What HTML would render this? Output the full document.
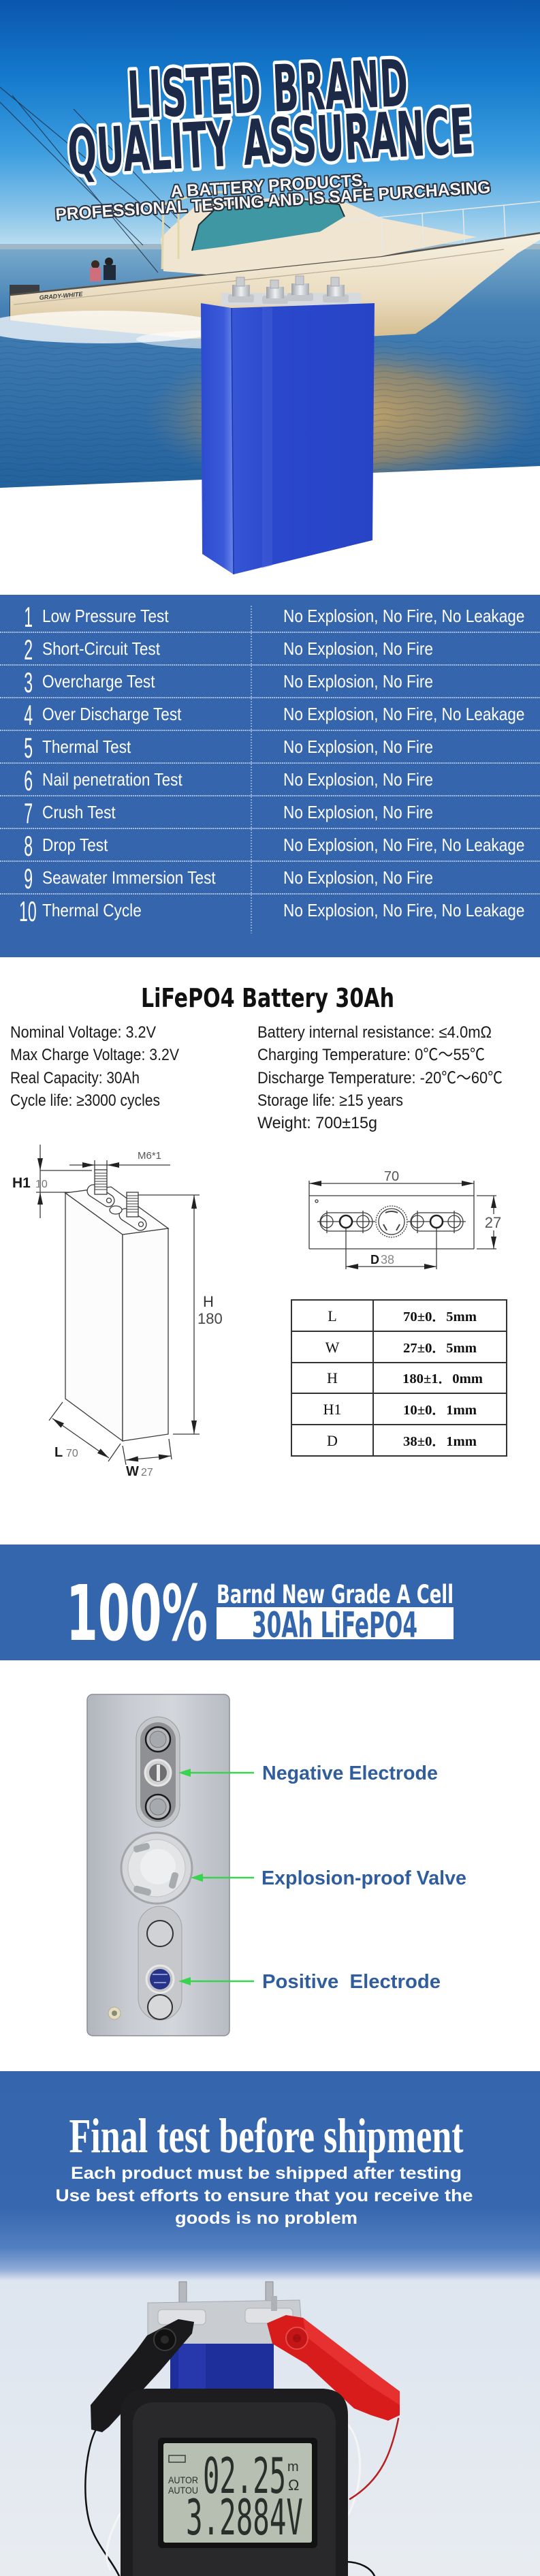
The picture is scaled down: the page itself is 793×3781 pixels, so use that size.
<!DOCTYPE html>
<html><head><meta charset="utf-8">
<style>
html,body{margin:0;padding:0;background:#fff;}
svg{display:block}
.d{font-family:"DejaVu Sans Condensed","DejaVu Sans",sans-serif;font-weight:bold;font-stretch:condensed}
.s{font-family:"Liberation Sans","Noto Sans CJK SC",sans-serif}
.sb{font-family:"Liberation Sans","Noto Sans CJK SC",sans-serif;font-weight:bold}
.sr{font-family:"Liberation Serif","Noto Serif CJK SC",serif}
.mono{font-family:"DejaVu Sans Mono","Liberation Mono",monospace}
</style></head><body>
<svg width="793" height="3781" viewBox="0 0 793 3781" xmlns="http://www.w3.org/2000/svg">
<defs>
<linearGradient id="sky" x1="0" y1="0" x2="0" y2="1">
<stop offset="0" stop-color="#0a56ad"/><stop offset="0.3" stop-color="#1479cc"/>
<stop offset="0.6" stop-color="#3c9ddf"/><stop offset="0.85" stop-color="#8cc6ea"/><stop offset="1" stop-color="#c5e2f1"/>
</linearGradient>
<linearGradient id="sea" x1="0" y1="0" x2="0" y2="1">
<stop offset="0" stop-color="#78a9cb"/><stop offset="0.25" stop-color="#437fb4"/><stop offset="1" stop-color="#22609c"/>
</linearGradient>
<radialGradient id="gold" cx="0.5" cy="0.5" r="0.5">
<stop offset="0" stop-color="#d7ad62" stop-opacity="0.95"/><stop offset="0.6" stop-color="#b89258" stop-opacity="0.65"/><stop offset="1" stop-color="#6d7f8e" stop-opacity="0"/>
</radialGradient>
<linearGradient id="hull" x1="0" y1="0" x2="0" y2="1">
<stop offset="0" stop-color="#f7f0e1"/><stop offset="0.6" stop-color="#eadcc0"/><stop offset="1" stop-color="#d5bd8e"/>
</linearGradient>
<linearGradient id="batM" x1="0" y1="0" x2="1" y2="0">
<stop offset="0" stop-color="#3656d6"/><stop offset="0.3" stop-color="#2a48cc"/><stop offset="1" stop-color="#2744c6"/>
</linearGradient>
<linearGradient id="batL" x1="0" y1="0" x2="1" y2="0">
<stop offset="0" stop-color="#2d4bd0"/><stop offset="0.7" stop-color="#3b5ad9"/><stop offset="1" stop-color="#6a85ea"/>
</linearGradient>
<linearGradient id="plate" x1="0" y1="0" x2="1" y2="0">
<stop offset="0" stop-color="#b1b5bc"/><stop offset="0.3" stop-color="#c9ccd2"/><stop offset="0.6" stop-color="#d3d6db"/><stop offset="1" stop-color="#b7bbc2"/>
</linearGradient>
<linearGradient id="fin" x1="0" y1="0" x2="0" y2="1">
<stop offset="0" stop-color="#3565ad"/><stop offset="0.27" stop-color="#3767ae"/><stop offset="0.35" stop-color="#527fc1"/>
<stop offset="0.392" stop-color="#8eaad6"/><stop offset="0.415" stop-color="#dde5ef"/><stop offset="1" stop-color="#e8ecf1"/>
</linearGradient>
<linearGradient id="metal" x1="0" y1="0" x2="1" y2="0">
<stop offset="0" stop-color="#9ea2a8"/><stop offset="0.5" stop-color="#eef0f2"/><stop offset="1" stop-color="#a9adb2"/>
</linearGradient>
<pattern id="rip" width="46" height="9" patternUnits="userSpaceOnUse">
<path d="M0 6 Q12 3 23 6 T46 6" stroke="#173f6a" stroke-width="1.4" fill="none"/>
</pattern>
</defs>

<!-- ============ HERO ============ -->
<rect x="0" y="0" width="793" height="370" fill="url(#sky)"/>
<rect x="0" y="358" width="793" height="10" fill="#9fb8c8"/>
<rect x="0" y="366" width="793" height="360" fill="url(#sea)"/>
<ellipse cx="500" cy="610" rx="290" ry="115" fill="url(#gold)"/>
<rect x="0" y="500" width="793" height="220" fill="url(#rip)" opacity="0.18"/>
<!-- rods -->
<g stroke="#1d2d44" stroke-width="1.2" opacity="0.8">
<line x1="0" y1="128" x2="250" y2="335"/>
<line x1="0" y1="150" x2="210" y2="360"/>
<line x1="108" y1="160" x2="262" y2="322"/>
<line x1="18" y1="140" x2="232" y2="400"/>
</g>
<!-- boat -->
<rect x="14" y="418" width="44" height="52" fill="#3a3d42"/>
<polygon points="15,433 303,403 560,376 793,342 793,352 760,372 700,420 640,470 610,490 500,496 280,497 100,480 15,470" fill="url(#hull)"/>
<polyline points="15,433 303,403 560,376 793,342" fill="none" stroke="#55524c" stroke-width="2.5"/>
<polyline points="20,447 300,417 560,390 740,366" fill="none" stroke="#b9ad96" stroke-width="1.2"/>
<text x="58" y="440" class="sb" font-size="9" font-style="italic" fill="#3a3a3a" transform="rotate(-5 58 440)">GRADY-WHITE</text>
<polygon points="240,398 236,350 250,335 290,300 420,289 505,296 560,320 700,348 560,376 303,403" fill="#efe5d0"/>
<polygon points="282,368 292,330 318,305 430,293 498,300 506,318 470,340 330,362" fill="#3f97a3"/>
<polyline points="282,368 292,330 318,305 430,293 498,300 506,318" fill="none" stroke="#1f3038" stroke-width="2"/>
<g stroke="#e3d6a8" stroke-width="3" fill="none">
<polyline points="238,395 240,300 300,282 330,282"/>
<line x1="262" y1="290" x2="262" y2="380"/>
</g>
<g stroke="#e8e8e8" stroke-width="1.5" fill="none">
<polyline points="505,324 650,310 793,296"/>
<line x1="560" y1="319" x2="562" y2="372"/><line x1="620" y1="313" x2="622" y2="364"/><line x1="680" y1="307" x2="682" y2="356"/><line x1="740" y1="301" x2="742" y2="348"/>
</g>
<circle cx="140" cy="388" r="6" fill="#3b2a22"/><rect x="132" y="393" width="16" height="20" fill="#cf6f7d"/>
<circle cx="160" cy="384" r="6" fill="#222"/><rect x="152" y="389" width="18" height="22" fill="#1f2a3a"/>
<ellipse cx="150" cy="480" rx="180" ry="24" fill="#ffffff" opacity="0.75"/>
<ellipse cx="330" cy="498" rx="130" ry="14" fill="#ffffff" opacity="0.55"/>
<!-- white floor -->
<polygon points="0,716 793,684 793,873 0,873" fill="#ffffff"/>

<!-- Title -->
<text class="d" x="393" y="164" text-anchor="middle" font-size="95" textLength="412" lengthAdjust="spacingAndGlyphs" fill="#1c2a48" stroke="#ffffff" stroke-width="10" stroke-linejoin="round" paint-order="stroke" transform="rotate(-2.5 393 130)">LISTED BRAND</text>
<text class="d" x="397" y="240" text-anchor="middle" font-size="92" textLength="596" lengthAdjust="spacingAndGlyphs" fill="#1c2a48" stroke="#ffffff" stroke-width="10" stroke-linejoin="round" paint-order="stroke" transform="rotate(-3 397 205)">QUALITY ASSURANCE</text>
<text class="sb" x="395" y="281" text-anchor="middle" font-size="25" textLength="289" lengthAdjust="spacingAndGlyphs" fill="#f5f5f5" stroke="#2a2f3a" stroke-width="4" stroke-linejoin="round" paint-order="stroke" transform="rotate(-3.4 395 275)">A BATTERY PRODUCTS,</text>
<text class="sb" x="401" y="303" text-anchor="middle" font-size="25" textLength="640" lengthAdjust="spacingAndGlyphs" fill="#f5f5f5" stroke="#2a2f3a" stroke-width="4" stroke-linejoin="round" paint-order="stroke" transform="rotate(-3.6 401 297)">PROFESSIONAL TESTING AND IS SAFE PURCHASING</text>

<!-- Battery -->
<rect x="325" y="430" width="205" height="18" fill="#d6d9dd"/>
<g>
<rect x="335" y="432" width="38" height="12" rx="3" fill="#c4c8cd"/><rect x="341" y="418" width="26" height="17" fill="url(#metal)"/><rect x="347" y="407" width="12" height="13" fill="#c9ccd0" stroke="#9a9ea3" stroke-width="0.8"/>
<rect x="385" y="434" width="38" height="12" rx="3" fill="#c4c8cd"/><rect x="391" y="421" width="26" height="17" fill="url(#metal)"/><rect x="397" y="411" width="12" height="12" fill="#c9ccd0" stroke="#9a9ea3" stroke-width="0.8"/>
<rect x="422" y="430" width="38" height="12" rx="3" fill="#c4c8cd"/><rect x="428" y="416" width="26" height="17" fill="url(#metal)"/><rect x="434" y="405" width="12" height="13" fill="#c9ccd0" stroke="#9a9ea3" stroke-width="0.8"/>
<rect x="474" y="432" width="38" height="12" rx="3" fill="#c4c8cd"/><rect x="480" y="418" width="26" height="17" fill="url(#metal)"/><rect x="486" y="407" width="12" height="13" fill="#c9ccd0" stroke="#9a9ea3" stroke-width="0.8"/>
</g>
<polygon points="295,445 340,452 343,843 297,813" fill="url(#batL)"/>
<polygon points="340,452 550,445 547,793 343,843" fill="url(#batM)"/>
<line x1="340" y1="452" x2="343" y2="843" stroke="#1d36a8" stroke-width="1.5"/>
<polygon points="385,451 400,451 400,830 385,834" fill="#4a67de" opacity="0.35"/>

<!-- ============ TEST TABLE ============ -->
<rect x="0" y="873" width="793" height="532" fill="#3565ad"/>
<g stroke="#a9bde0" stroke-width="2" stroke-dasharray="2 1">
<line x1="0" y1="928" x2="793" y2="928"/><line x1="0" y1="976" x2="793" y2="976"/>
<line x1="0" y1="1024" x2="793" y2="1024"/><line x1="0" y1="1072" x2="793" y2="1072"/>
<line x1="0" y1="1120" x2="793" y2="1120"/><line x1="0" y1="1168" x2="793" y2="1168"/>
<line x1="0" y1="1216" x2="793" y2="1216"/><line x1="0" y1="1264" x2="793" y2="1264"/>
<line x1="0" y1="1312" x2="793" y2="1312"/>
</g>
<line x1="369" y1="889" x2="369" y2="1370" stroke="#a9bde0" stroke-width="1.5" stroke-dasharray="2 2"/>
<g transform="scale(0.55 1)" class="s" font-size="42" fill="#ffffff">
<text x="64" y="920">1</text><text x="64" y="968">2</text><text x="64" y="1016">3</text>
<text x="64" y="1064">4</text><text x="64" y="1112">5</text><text x="64" y="1160">6</text>
<text x="64" y="1208">7</text><text x="64" y="1256">8</text><text x="64" y="1304">9</text>
<text x="51" y="1352">10</text>
</g>
<g transform="scale(0.87 1)" class="s" font-size="26" fill="#ffffff">
<text x="71.3" y="913">Low Pressure Test</text>
<text x="71.3" y="961">Short-Circuit Test</text>
<text x="71.3" y="1009">Overcharge Test</text>
<text x="71.3" y="1057">Over Discharge Test</text>
<text x="71.3" y="1105">Thermal Test</text>
<text x="71.3" y="1153">Nail penetration Test</text>
<text x="71.3" y="1201">Crush Test</text>
<text x="71.3" y="1249">Drop Test</text>
<text x="71.3" y="1297">Seawater Immersion Test</text>
<text x="71.3" y="1345">Thermal Cycle</text>
<text x="478.2" y="913">No Explosion, No Fire, No Leakage</text>
<text x="478.2" y="961">No Explosion, No Fire</text>
<text x="478.2" y="1009">No Explosion, No Fire</text>
<text x="478.2" y="1057">No Explosion, No Fire, No Leakage</text>
<text x="478.2" y="1105">No Explosion, No Fire</text>
<text x="478.2" y="1153">No Explosion, No Fire</text>
<text x="478.2" y="1201">No Explosion, No Fire</text>
<text x="478.2" y="1249">No Explosion, No Fire, No Leakage</text>
<text x="478.2" y="1297">No Explosion, No Fire</text>
<text x="478.2" y="1345">No Explosion, No Fire, No Leakage</text>
</g>

<!-- ============ SPECS ============ -->
<text class="d" x="393" y="1478" text-anchor="middle" font-size="38" textLength="372" lengthAdjust="spacingAndGlyphs" fill="#111">LiFePO4 Battery 30Ah</text>
<g class="s" font-size="24" fill="#1a1a1a">
<text x="15" y="1523" textLength="214" lengthAdjust="spacingAndGlyphs">Nominal Voltage: 3.2V</text>
<text x="15" y="1556" textLength="248" lengthAdjust="spacingAndGlyphs">Max Charge Voltage: 3.2V</text>
<text x="15" y="1590" textLength="190" lengthAdjust="spacingAndGlyphs">Real Capacity: 30Ah</text>
<text x="15" y="1623" textLength="220" lengthAdjust="spacingAndGlyphs">Cycle life: ≥3000 cycles</text>
<text x="378" y="1523" textLength="344" lengthAdjust="spacingAndGlyphs">Battery internal resistance: ≤4.0mΩ</text>
<text x="378" y="1556" textLength="334" lengthAdjust="spacingAndGlyphs">Charging Temperature: 0℃～55℃</text>
<text x="378" y="1590" textLength="360" lengthAdjust="spacingAndGlyphs">Discharge Temperature: -20℃～60℃</text>
<text x="378" y="1623" textLength="214" lengthAdjust="spacingAndGlyphs">Storage life: ≥15 years</text>
<text x="378" y="1656" textLength="176" lengthAdjust="spacingAndGlyphs">Weight: 700±15g</text>
</g>

<!-- Drawing left -->
<g stroke="#3a3a3a" stroke-width="1.3" fill="none">
<line x1="59" y1="1680" x2="59" y2="1788"/>
<line x1="59" y1="1718" x2="135" y2="1718"/>
<line x1="53" y1="1750" x2="128" y2="1750"/>
<line x1="102" y1="1710" x2="250" y2="1710"/>
<line x1="139" y1="1703" x2="139" y2="1720"/><line x1="157" y1="1703" x2="157" y2="1720"/>
<line x1="285" y1="1754" x2="285" y2="2105"/>
<line x1="203" y1="1754" x2="293" y2="1754"/><line x1="254" y1="2105" x2="293" y2="2105"/>
<line x1="77" y1="2082" x2="160" y2="2140"/>
<line x1="72" y1="2085" x2="92" y2="2058"/><line x1="159" y1="2145" x2="177" y2="2119"/>
<line x1="185" y1="2143" x2="251" y2="2137"/>
<line x1="180" y1="2122" x2="185" y2="2150"/><line x1="248" y1="2112" x2="252" y2="2142"/>
</g>
<g fill="#222">
<polygon points="59,1718 55,1700 63,1700"/><polygon points="59,1750 55,1768 63,1768"/>
<polygon points="139,1710 121,1706 121,1714"/><polygon points="157,1710 175,1706 175,1714"/>
<polygon points="285,1754 281,1774 289,1774"/><polygon points="285,2105 281,2085 289,2085"/>
<polygon points="77,2082 89.4,2095.6 94,2089"/><polygon points="160,2140 143,2133 147.6,2126.4"/>
<polygon points="185,2143 203.3,2145.4 202.5,2137.4"/><polygon points="251,2137 233.5,2142.6 232.7,2134.6"/>
</g>
<g stroke="#3a3a3a" stroke-width="1.3" fill="#fcfcfc">
<polygon points="96,1751 180,1812 180,2115 96,2053"/>
<polygon points="180,1812 247,1803 247,2105 180,2115"/>
<polygon points="96,1751 163,1742 247,1803 180,1812"/>
<rect x="126" y="1746" width="44" height="18" rx="9" transform="rotate(33 148 1755)"/>
<rect x="173" y="1781" width="44" height="18" rx="9" transform="rotate(33 195 1790)"/>
<ellipse cx="170" cy="1776" rx="9" ry="6"/>
<circle cx="160" cy="1762" r="3.5"/><circle cx="207" cy="1797" r="3.5"/>
<rect x="139" y="1717" width="18" height="36"/>
<rect x="186" y="1750" width="17" height="36"/>
</g>
<g stroke="#3a3a3a" stroke-width="1">
<line x1="139" y1="1722" x2="157" y2="1722"/><line x1="139" y1="1726" x2="157" y2="1726"/><line x1="139" y1="1730" x2="157" y2="1730"/><line x1="139" y1="1734" x2="157" y2="1734"/><line x1="139" y1="1738" x2="157" y2="1738"/><line x1="139" y1="1742" x2="157" y2="1742"/><line x1="139" y1="1746" x2="157" y2="1746"/>
<line x1="186" y1="1755" x2="203" y2="1755"/><line x1="186" y1="1759" x2="203" y2="1759"/><line x1="186" y1="1763" x2="203" y2="1763"/><line x1="186" y1="1767" x2="203" y2="1767"/><line x1="186" y1="1771" x2="203" y2="1771"/><line x1="186" y1="1775" x2="203" y2="1775"/><line x1="186" y1="1779" x2="203" y2="1779"/>
</g>
<text class="sb" x="18" y="1743" font-size="21" fill="#1a1a1a">H1</text>
<text class="s" x="52" y="1743" font-size="16" fill="#777">10</text>
<text class="s" x="202" y="1701" font-size="15" fill="#555">M6*1</text>
<text class="s" x="298" y="1918" font-size="22" fill="#333">H</text>
<text class="s" x="290" y="1943" font-size="22" fill="#444">180</text>
<text class="sb" x="80" y="2138" font-size="20" fill="#1a1a1a">L</text>
<text class="s" x="97" y="2138" font-size="16" fill="#777">70</text>
<text class="sb" x="185" y="2166" font-size="20" fill="#1a1a1a">W</text>
<text class="s" x="207" y="2166" font-size="16" fill="#777">27</text>

<!-- Drawing right (top view) -->
<g stroke="#3a3a3a" stroke-width="1.3" fill="none">
<line x1="454" y1="1733" x2="454" y2="1833"/><line x1="696" y1="1733" x2="696" y2="1833"/>
<line x1="454" y1="1755" x2="696" y2="1755"/><line x1="454" y1="1833" x2="696" y2="1833"/>
<line x1="454" y1="1737" x2="696" y2="1737"/>
<line x1="700" y1="1755" x2="729" y2="1755"/><line x1="700" y1="1833" x2="729" y2="1833"/>
<line x1="725" y1="1755" x2="725" y2="1782"/><line x1="725" y1="1806" x2="725" y2="1833"/>
<circle cx="465" cy="1763" r="2"/>
<rect x="470" y="1780" width="77" height="27" rx="13.5"/>
<rect x="603" y="1780" width="77" height="27" rx="13.5"/>
<line x1="466" y1="1793" x2="551" y2="1793"/><line x1="599" y1="1793" x2="684" y2="1793"/>
<line x1="480" y1="1777" x2="480" y2="1810"/><line x1="533" y1="1777" x2="533" y2="1810"/>
<line x1="613" y1="1777" x2="613" y2="1810"/><line x1="667" y1="1777" x2="667" y2="1810"/>
<circle cx="480" cy="1793" r="9"/><circle cx="533" cy="1793" r="9"/>
<circle cx="613" cy="1793" r="9"/><circle cx="667" cy="1793" r="9"/>
<circle cx="575" cy="1793" r="23" stroke-dasharray="2 1.5"/>
<circle cx="575" cy="1793" r="19"/>
<line x1="508" y1="1793" x2="508" y2="1863"/><line x1="641" y1="1793" x2="641" y2="1863"/>
<line x1="508" y1="1859" x2="641" y2="1859"/>
</g>
<circle cx="508" cy="1793" r="9" fill="#fff" stroke="#222" stroke-width="2.6"/>
<circle cx="641" cy="1793" r="9" fill="#fff" stroke="#222" stroke-width="2.6"/>
<g fill="none" stroke="#444" stroke-width="2">
<path d="M566 1780 Q575 1776 584 1780"/><path d="M563 1797 L568 1806"/><path d="M587 1797 L582 1806"/>
</g>
<g fill="#222">
<polygon points="454,1737 472,1733 472,1741"/><polygon points="696,1737 678,1733 678,1741"/>
<polygon points="725,1755 721,1773 729,1773"/><polygon points="725,1833 721,1815 729,1815"/>
<polygon points="508,1859 526,1855 526,1863"/><polygon points="641,1859 623,1855 623,1863"/>
</g>
<text class="s" x="575" y="1733" text-anchor="middle" font-size="20" fill="#555">70</text>
<text class="s" x="724" y="1802" text-anchor="middle" font-size="22" fill="#555">27</text>
<text class="sb" x="544" y="1855" font-size="18" fill="#1a1a1a">D</text>
<text class="s" x="559" y="1855" font-size="18" fill="#888">38</text>

<!-- dims table -->
<g stroke="#333" stroke-width="2" fill="none">
<rect x="428" y="1908" width="316" height="229"/>
<line x1="548" y1="1908" x2="548" y2="2137"/>
<line x1="428" y1="1954" x2="744" y2="1954"/><line x1="428" y1="2000" x2="744" y2="2000"/>
<line x1="428" y1="2045" x2="744" y2="2045"/><line x1="428" y1="2091" x2="744" y2="2091"/>
</g>
<g class="sr" font-size="22" fill="#111" text-anchor="middle">
<text x="488" y="1939">L</text><text x="488" y="1985">W</text><text x="488" y="2030">H</text>
<text x="488" y="2076">H1</text><text x="488" y="2122">D</text>
</g>
<g class="sr" font-size="20" font-weight="bold" fill="#111" text-anchor="middle">
<text x="646" y="1939" textLength="108" lengthAdjust="spacingAndGlyphs">70±0．5mm</text>
<text x="646" y="1985" textLength="108" lengthAdjust="spacingAndGlyphs">27±0．5mm</text>
<text x="650" y="2030" textLength="118" lengthAdjust="spacingAndGlyphs">180±1．0mm</text>
<text x="646" y="2076" textLength="108" lengthAdjust="spacingAndGlyphs">10±0．1mm</text>
<text x="646" y="2122" textLength="108" lengthAdjust="spacingAndGlyphs">38±0．1mm</text>
</g>

<!-- ============ 100% BANNER ============ -->
<rect x="0" y="2267" width="793" height="170" fill="#3466ae"/>
<text class="d" x="97" y="2407" font-size="112" textLength="208" lengthAdjust="spacingAndGlyphs" fill="#ffffff">100%</text>
<text class="d" x="318" y="2353" font-size="37" textLength="348" lengthAdjust="spacingAndGlyphs" fill="#ffffff">Barnd New Grade A Cell</text>
<rect x="318" y="2359" width="348" height="47" fill="#ffffff"/>
<text class="d" x="370" y="2403" font-size="52" textLength="243" lengthAdjust="spacingAndGlyphs" fill="#3466ae">30Ah LiFePO4</text>

<!-- ============ CELL PHOTO ============ -->
<rect x="128" y="2487" width="209" height="501" rx="8" fill="url(#plate)" stroke="#8a8e96" stroke-width="1.5"/>
<rect x="200" y="2520" width="64" height="162" rx="32" fill="#c4c6ca" stroke="#9a9ca0"/>
<rect x="206" y="2528" width="52" height="146" rx="26" fill="#8e9094"/>
<circle cx="232" cy="2553" r="18" fill="#b5b8bb" stroke="#1a1a1a" stroke-width="2.5"/>
<circle cx="232" cy="2553" r="12" fill="#a6a9ad" stroke="#777"/>
<circle cx="232" cy="2602" r="19" fill="#d2d2d2" stroke="#e6e6e6" stroke-width="3"/>
<circle cx="232" cy="2602" r="13" fill="#6e6e70"/>
<rect x="230" y="2590" width="5" height="24" fill="#e8e8e8"/>
<circle cx="232" cy="2652" r="18" fill="#b5b8bb" stroke="#1a1a1a" stroke-width="2.5"/>
<circle cx="232" cy="2652" r="12" fill="#a6a9ad" stroke="#777"/>
<circle cx="230" cy="2742" r="52" fill="#d5d7da" stroke="#a3a5a9" stroke-width="3"/>
<circle cx="230" cy="2742" r="42" fill="#e3e5e7" stroke="#c0c2c5"/>
<circle cx="232" cy="2740" r="26" fill="#eeeff0"/>
<g fill="#a8abae">
<rect x="196" y="2707" width="24" height="10" rx="4" transform="rotate(-15 208 2712)"/>
<rect x="250" y="2748" width="10" height="24" rx="4" transform="rotate(15 255 2760)"/>
<rect x="196" y="2770" width="26" height="10" rx="4" transform="rotate(15 209 2775)"/>
</g>
<rect x="203" y="2798" width="64" height="167" rx="32" fill="#c6c8cc" stroke="#a0a2a6"/>
<circle cx="235" cy="2838" r="19" fill="#d0d2d5" stroke="#333" stroke-width="2"/>
<circle cx="235" cy="2905" r="20" fill="#c2c4c7" stroke="#e8e8e8" stroke-width="3"/>
<circle cx="235" cy="2905" r="15" fill="#27348a"/>
<path d="M224 2898 L246 2898 M226 2910 L244 2910" stroke="#8d97c9" stroke-width="2"/>
<circle cx="235" cy="2946" r="18" fill="#d6d8da" stroke="#333" stroke-width="2"/>
<circle cx="168" cy="2955" r="9" fill="#e3dcc0" stroke="#b8ae8a"/>
<circle cx="168" cy="2955" r="4" fill="#8a8a70"/>
<g stroke="#3ad34f" stroke-width="2.5">
<line x1="276" y1="2602" x2="373" y2="2602"/>
<line x1="294" y1="2756" x2="373" y2="2756"/>
<line x1="276" y1="2908" x2="373" y2="2908"/>
</g>
<g fill="#3ad34f">
<polygon points="262,2602 280,2596 280,2608"/>
<polygon points="280,2756 298,2750 298,2762"/>
<polygon points="262,2908 280,2902 280,2914"/>
</g>
<g class="sb" font-size="28.5" fill="#2f5d9d">
<text x="385" y="2612" textLength="258" lengthAdjust="spacingAndGlyphs">Negative Electrode</text>
<text x="384" y="2766" textLength="301" lengthAdjust="spacingAndGlyphs">Explosion-proof Valve</text>
<text x="385" y="2918" textLength="262" lengthAdjust="spacingAndGlyphs" xml:space="preserve">Positive  Electrode</text>
</g>

<!-- ============ FINAL TEST ============ -->
<rect x="0" y="3040" width="793" height="741" fill="url(#fin)"/>
<text class="sr" x="391" y="3159" text-anchor="middle" font-size="72" font-weight="bold" textLength="579" lengthAdjust="spacingAndGlyphs" fill="#ffffff">Final test before shipment</text>
<g class="sb" font-size="25" fill="#ffffff" text-anchor="middle">
<text x="391" y="3198" textLength="574" lengthAdjust="spacingAndGlyphs">Each product must be shipped after testing</text>
<text x="388" y="3231" textLength="613" lengthAdjust="spacingAndGlyphs">Use best efforts to ensure that you receive the</text>
<text x="391" y="3264" textLength="268" lengthAdjust="spacingAndGlyphs">goods is no problem</text>
</g>
<!-- battery -->
<rect x="263" y="3349" width="11" height="40" fill="#b5b8bc" stroke="#8d9095"/>
<rect x="390" y="3349" width="11" height="38" fill="#b5b8bc" stroke="#8d9095"/>
<polygon points="217,3380 440,3376 445,3440 217,3442" fill="#c9ccd1" stroke="#a7aab0"/>
<rect x="232" y="3390" width="70" height="22" rx="6" fill="#dfe1e4" stroke="#b0b3b8"/>
<rect x="360" y="3388" width="70" height="22" rx="6" fill="#dfe1e4" stroke="#b0b3b8"/>
<rect x="398" y="3370" width="9" height="22" fill="#aeb1b5"/>
<polygon points="250,3440 402,3440 402,3512 250,3512" fill="#1e2f9c"/>
<rect x="262" y="3440" width="40" height="72" fill="#2b3fb8" opacity="0.6"/>
<!-- clips -->
<polygon points="216,3428 262,3404 285,3408 282,3425 235,3480 160,3562 150,3570 134,3566 133,3530 200,3450" fill="#1a1a1c"/>
<circle cx="242" cy="3434" r="16" fill="#111" stroke="#3a3a3a" stroke-width="2"/>
<circle cx="242" cy="3434" r="6" fill="#2a2a2a"/>
<polygon points="392,3410 420,3398 445,3402 560,3490 587,3510 587,3545 570,3553 545,3545 520,3535 450,3470 400,3440" fill="#d81c1c"/>
<polygon points="445,3402 560,3490 587,3510 587,3530 540,3500 450,3430" fill="#ee3a3a" opacity="0.7"/>
<circle cx="436" cy="3432" r="16" fill="#c41616" stroke="#e84a4a" stroke-width="2"/>
<circle cx="436" cy="3432" r="6" fill="#a51010"/>
<!-- wires -->
<g fill="none" stroke-linecap="round">
<path d="M140,3568 C124,3600 118,3680 138,3720 C150,3745 165,3760 175,3781" stroke="#111" stroke-width="2.5"/>
<path d="M176,3690 C160,3720 150,3750 162,3772" stroke="#f5f5f5" stroke-width="3"/>
<path d="M512,3560 C532,3585 536,3640 512,3690" stroke="#f5f5f5" stroke-width="3"/>
<path d="M585,3550 C575,3600 560,3640 514,3668" stroke="#b52020" stroke-width="2.5"/>
<path d="M505,3760 C530,3760 545,3770 550,3781" stroke="#111" stroke-width="2.5"/>
</g>
<!-- meter -->
<path d="M177,3781 L177,3545 Q177,3508 215,3506 L475,3506 Q511,3508 511,3545 L511,3781 Z" fill="#1d1d1f"/>
<path d="M195,3781 L195,3560 Q195,3528 225,3526 L465,3526 Q493,3528 493,3560 L493,3781 Z" fill="#29292b"/>
<rect x="232" y="3578" width="234" height="162" rx="6" fill="#121212"/>
<rect x="240" y="3586" width="218" height="146" rx="3" fill="#b7bfb3"/>
<rect x="248" y="3604" width="24" height="10" fill="none" stroke="#3a3e3a" stroke-width="1.5"/>
<g fill="#2b2f2b">
<text class="mono" x="298" y="3659" font-size="72" textLength="122" lengthAdjust="spacingAndGlyphs">02.25</text>
<text class="s" x="422" y="3627" font-size="20">m</text>
<text class="s" x="423" y="3655" font-size="22">Ω</text>
<text class="mono" x="273" y="3720" font-size="72" textLength="172" lengthAdjust="spacingAndGlyphs">3.2884V</text>
<text class="s" x="247" y="3645" font-size="14" textLength="44" lengthAdjust="spacingAndGlyphs">AUTOR</text>
<text class="s" x="247" y="3660" font-size="14" textLength="44" lengthAdjust="spacingAndGlyphs">AUTOU</text>
</g>
</svg>
</body></html>
